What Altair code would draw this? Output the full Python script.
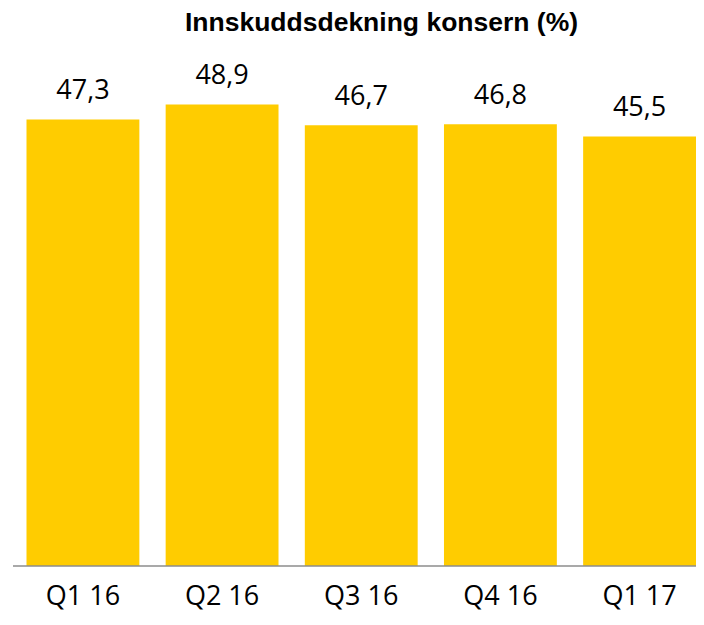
import altair as alt
import pandas as pd

categories = ["Q1 16", "Q2 16", "Q3 16", "Q4 16", "Q1 17"]
values = [47.3, 48.9, 46.7, 46.8, 45.5]
labels = ["47,3", "48,9", "46,7", "46,8", "45,5"]

df = pd.DataFrame({"cat": categories, "v": values, "lab": labels})
base_df = pd.DataFrame({"z": [0]})

W = 683
H = 472

x_enc = alt.X(
    "cat:N",
    sort=categories,
    scale=alt.Scale(paddingInner=0.189, paddingOuter=0.0485, align=1),
    axis=alt.Axis(
        title=None, domain=False, ticks=False, labelAngle=0,
        labelFont="Open Sans", labelFontSize=27, labelColor="black",
        labelBaseline="alphabetic", labelPadding=38,
    ),
)
y_enc = alt.Y("v:Q", scale=alt.Scale(domain=[0, 50]), axis=None)

bars = alt.Chart(df).mark_bar(color="#FFCC00").encode(x=x_enc, y=y_enc)
text = alt.Chart(df).mark_text(
    dy=-20, baseline="alphabetic", font="Open Sans", fontSize=27, color="black"
).encode(x=x_enc, y=y_enc, text="lab:N")
rule = alt.Chart(base_df).mark_rule(color="#8c8c8c", strokeWidth=1.5).encode(
    y=alt.Y("z:Q", scale=alt.Scale(domain=[0, 50]), axis=None)
)

chart = alt.layer(bars, text, rule).properties(
    width=W,
    height=H,
    title=alt.TitleParams(
        "Innskuddsdekning konsern (%)",
        font="Liberation Sans", fontSize=26.5, fontWeight="bold", color="black",
        anchor="middle", frame="group", dx=27, dy=20, baseline="alphabetic", offset=25,
    ),
    autosize=alt.AutoSizeParams(type="none"),
    padding={"left": 5, "top": 86, "right": 0, "bottom": 46},
).configure_view(stroke=None)

chart.save("out.html", embed_options={"renderer": "svg", "actions": False})
